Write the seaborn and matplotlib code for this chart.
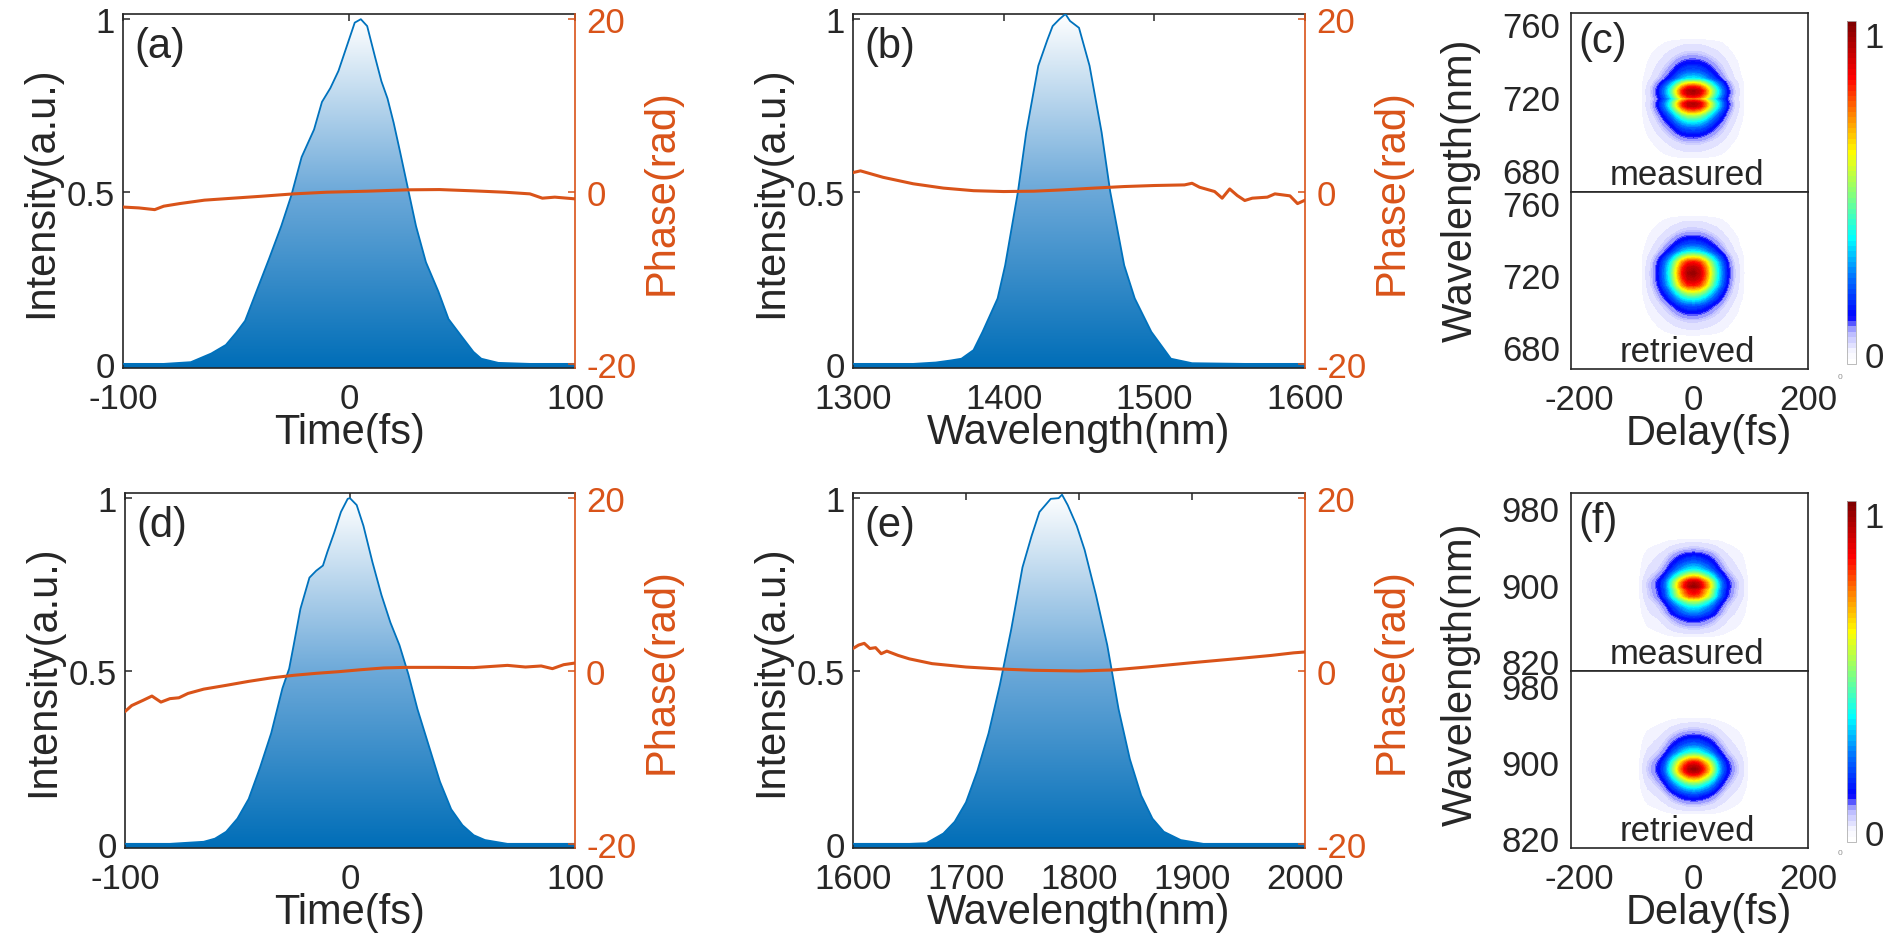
import numpy as np
import matplotlib
matplotlib.use("Agg")
import matplotlib.pyplot as plt
from matplotlib.colors import LinearSegmentedColormap, Normalize
from matplotlib.cm import ScalarMappable
import seaborn as sns

# ---- (a) temporal intensity / phase, first pulse ----
time_a = [-100, -82, -70, -61, -54.5, -50, -46, -41, -35.4, -30, -25.5, -21, -15.5, -12, -8.3, -4.7,
          -1.1, 2.5, 5.2, 8, 11.5, 14.3, 17, 19.7, 22.4, 26, 29.6, 34, 39.5, 44, 49.4, 55, 58.5, 66, 80, 100]
int_a = [0, 0, 0.005, 0.03, 0.055, 0.09, 0.125, 0.21, 0.305, 0.40, 0.49, 0.60, 0.68, 0.76, 0.80, 0.85,
         0.92, 0.99, 1.0, 0.98, 0.89, 0.82, 0.77, 0.70, 0.62, 0.51, 0.40, 0.295, 0.21, 0.13, 0.083, 0.035,
         0.015, 0.003, 0, 0]
phase_t_a = [-100, -93, -86, -82, -75, -64, -53, -39, -24.5, -10, 8, 26, 40, 55, 69, 80, 85.5, 91, 100]
phase_a = [-1.8, -1.9, -2.1, -1.7, -1.4, -1.0, -0.8, -0.55, -0.27, -0.08, 0.04, 0.2, 0.23, 0.08, -0.08,
           -0.27, -0.77, -0.65, -0.85]

# ---- (b) spectrum / spectral phase, first pulse ----
wl_b = [1300, 1340, 1355, 1365, 1372, 1380, 1386, 1396, 1401, 1409.5, 1415, 1423, 1429, 1432.5, 1437,
        1441, 1444, 1447, 1450, 1457, 1465, 1470.7, 1480, 1487, 1498, 1511, 1525, 1560, 1600]
int_b = [0, 0, 0.004, 0.01, 0.015, 0.04, 0.093, 0.19, 0.286, 0.5, 0.672, 0.865, 0.94, 0.98, 1.0,
         1.015, 0.995, 0.985, 0.975, 0.865, 0.672, 0.5, 0.286, 0.19, 0.093, 0.015, 0.002, 0, 0]
phase_wl_b = [1300, 1305, 1320, 1340, 1360, 1380, 1400, 1420, 1440, 1460, 1480, 1500, 1520, 1525, 1530,
              1540, 1545, 1550, 1555, 1560, 1565, 1575, 1580, 1590, 1595, 1600]
phase_b = [2.2, 2.4, 1.65, 0.9, 0.4, 0.1, 0, 0.04, 0.2, 0.4, 0.58, 0.7, 0.77, 0.96, 0.5, 0, -0.77, 0.3,
           -0.46, -1.04, -0.77, -0.65, -0.27, -0.5, -1.4, -1.0]

# ---- (d) temporal intensity / phase, second pulse ----
time_d = [-100, -80, -65, -60, -55, -50, -45, -40, -35, -30, -27, -25, -22, -18, -15, -12, -10, -7, -4, -1,
          0, 3, 6, 10, 14, 18, 22, 26, 30, 35, 40, 45, 50, 55, 60, 70, 80, 100]
int_d = [0, 0, 0.006, 0.015, 0.035, 0.073, 0.13, 0.22, 0.32, 0.45, 0.507, 0.575, 0.68, 0.77, 0.79, 0.805,
         0.845, 0.90, 0.96, 0.998, 1.0, 0.98, 0.92, 0.815, 0.72, 0.64, 0.575, 0.49, 0.39, 0.285, 0.18, 0.10,
         0.054, 0.025, 0.011, 0, 0, 0]
phase_t_d = [-100, -97, -92, -88, -84, -80, -76, -72, -65, -55, -45, -35, -25, -15, -5, 5, 15, 25, 40, 55,
             70, 78, 85, 90, 95, 100]
phase_d = [-4.7, -4.0, -3.4, -2.9, -3.6, -3.2, -3.1, -2.6, -2.1, -1.66, -1.2, -0.8, -0.5, -0.27, -0.08,
           0.15, 0.35, 0.42, 0.42, 0.39, 0.65, 0.46, 0.58, 0.27, 0.73, 0.92]

# ---- (e) spectrum / spectral phase, second pulse ----
wl_e = [1600, 1650, 1665, 1680, 1690, 1700, 1710, 1720, 1730, 1740, 1750, 1758, 1765, 1775, 1782, 1785,
        1790, 1798, 1805, 1815, 1825, 1835, 1845, 1855, 1865, 1875, 1890, 1910, 2000]
int_e = [0, 0, 0.002, 0.03, 0.064, 0.12, 0.21, 0.32, 0.46, 0.62, 0.80, 0.89, 0.96, 0.998, 1.0, 1.01,
         0.98, 0.92, 0.85, 0.72, 0.575, 0.39, 0.245, 0.14, 0.073, 0.035, 0.011, 0, 0]
phase_wl_e = [1600, 1605, 1610, 1615, 1620, 1625, 1630, 1640, 1650, 1670, 1700, 1730, 1760, 1800, 1830,
              1860, 1900, 1940, 1970, 1990, 2000]
phase_e = [2.6, 3.0, 3.2, 2.6, 2.7, 2.0, 2.3, 1.8, 1.4, 0.85, 0.46, 0.23, 0.08, 0, 0.12, 0.46, 0.96, 1.43,
           1.8, 2.1, 2.2]

# ---- (c) FROG traces: delay and wavelength marginals ----
delay_c = [-92, -82, -72, -62, -50, -40, -30, -20, -10, 0, 10, 20, 30, 40, 50, 60, 70, 80, 90]
dprof_c = [0, 0.02, 0.06, 0.13, 0.27, 0.43, 0.65, 0.86, 0.98, 1.0, 0.95, 0.8, 0.6, 0.41, 0.25, 0.12, 0.05,
           0.015, 0]
wl_c_meas = [686, 691, 695, 699, 703, 706.5, 710, 713, 715, 716.5, 718, 719, 720, 722, 723.5, 725.5, 728,
             730, 734, 739, 743, 747, 752]
wprof_c_meas = [0, 0.02, 0.05, 0.12, 0.22, 0.36, 0.55, 0.8, 0.95, 0.97, 0.85, 0.72, 0.85, 0.97, 0.98, 0.85,
                0.6, 0.36, 0.22, 0.12, 0.06, 0.025, 0]
wl_c_ret = [686, 691, 695, 699.5, 703, 706.5, 710, 714.5, 718, 721, 724, 727, 730, 733, 737, 740.5, 744,
            748, 753]
wprof_c_ret = [0, 0.02, 0.05, 0.12, 0.2, 0.36, 0.55, 0.85, 0.96, 1.0, 0.96, 0.86, 0.62, 0.36, 0.2, 0.12,
               0.06, 0.025, 0]

# ---- (f) FROG traces ----
delay_f = [-96, -88, -80, -70, -60, -50, -43, -35, -25, -16, -8, 0, 8, 15, 25, 35, 42, 50, 59, 70, 79, 88, 96]
dprof_f = [0, 0.02, 0.05, 0.08, 0.13, 0.23, 0.36, 0.52, 0.72, 0.87, 0.97, 1.0, 0.97, 0.87, 0.72, 0.52,
           0.36, 0.23, 0.13, 0.07, 0.04, 0.015, 0]
wl_f_meas = [845, 850, 855, 860, 865, 870, 877, 883, 888, 892, 895, 898, 902, 905, 910, 916, 924, 932, 937,
             942, 948]
wprof_f_meas = [0, 0.02, 0.05, 0.09, 0.14, 0.24, 0.36, 0.55, 0.8, 0.88, 0.9, 1.0, 0.97, 0.86, 0.6, 0.36,
                0.22, 0.12, 0.06, 0.025, 0]
wl_f_ret = [845, 850, 855, 860, 866, 872, 878, 883, 887, 890, 893, 896, 900, 904, 910, 918, 926, 932, 938,
            943, 948]
wprof_f_ret = [0, 0.02, 0.05, 0.1, 0.18, 0.32, 0.5, 0.7, 0.86, 0.96, 1.0, 0.96, 0.86, 0.68, 0.42, 0.24,
               0.13, 0.07, 0.03, 0.01, 0]

BLUE = "#0072BD"
ORANGE = "#D95319"
TICK_FS = 25
LABEL_FS = 30
INT_LIM = (-0.012, 1.015)
PHASE_LIM = ((INT_LIM[0] - 0.5) * 40, (INT_LIM[1] - 0.5) * 40)

FILL_CMAP = LinearSegmentedColormap.from_list(
    "fill", [(0.0, (0.0, 0.43, 0.72)), (0.5, (0.42, 0.66, 0.85)), (1.0, (1, 1, 1))])

TRACE_CMAP = LinearSegmentedColormap.from_list("frog", [
    (0.0, (1, 1, 1)), (0.03, (0.96, 0.96, 1)), (0.09, (0.7, 0.7, 1.0)), (0.131, (0, 0, 1)),
    (0.25, (0, 0.45, 1)), (0.364, (0, 1, 1)), (0.49, (0.5, 1, 0.5)), (0.617, (1, 1, 0)),
    (0.733, (1, 0.5, 0)), (0.84, (1, 0, 0)), (1.0, (0.5, 0, 0))], N=64)
TRACE_NORM = Normalize(vmin=-0.031, vmax=1.042)
TRACE_LEVELS = np.linspace(0.003, 1.0, 80)


def gradient_fill(ax, x, y, y0):
    poly = ax.fill_between(x, y, y0, facecolor="none", edgecolor="none")
    grad = np.linspace(0, 1, 256).reshape(-1, 1)
    img = ax.imshow(grad, cmap=FILL_CMAP, aspect="auto", origin="lower",
                    extent=[min(x), max(x), y0, max(y)], zorder=1)
    img.set_clip_path(poly.get_paths()[0], transform=ax.transData)


def plot_pulse(fig, rect, x, y, px, py, xlim, xticks, xlabel, tag):
    ax = fig.add_axes(rect)
    gradient_fill(ax, x, y, INT_LIM[0])
    sns.lineplot(x=x, y=y, ax=ax, color=BLUE, lw=1.3, zorder=3)
    ax.set_xlim(xlim)
    ax.set_ylim(INT_LIM)
    ax.set_xticks(xticks)
    ax.set_xticklabels([str(v) for v in xticks])
    ax.set_yticks([0, 0.5, 1])
    ax.set_yticklabels(["0", "0.5", "1"])
    ax.tick_params(direction="in", top=True, right=False, length=5, width=1.1, labelsize=TICK_FS)
    ax.tick_params(axis="x", pad=10)
    ax.tick_params(axis="y", pad=6)
    ax.set_xlabel(xlabel, fontsize=LABEL_FS, labelpad=-2)
    ax.set_ylabel("Intensity(a.u.)", fontsize=LABEL_FS, labelpad=4)
    ax.spines["right"].set_visible(False)
    for s in ["left", "top", "bottom"]:
        ax.spines[s].set_linewidth(1.2)
    ax.text(0.025, 0.965, tag, transform=ax.transAxes, ha="left", va="top", fontsize=LABEL_FS)

    ax2 = ax.twinx()
    sns.lineplot(x=px, y=py, ax=ax2, color=ORANGE, lw=2.2)
    ax2.set_ylim(PHASE_LIM)
    ax2.set_yticks([-20, 0, 20])
    ax2.set_yticklabels(["-20", "0", "20"])
    ax2.tick_params(axis="y", direction="in", length=5, width=1.1, colors=ORANGE,
                    labelsize=TICK_FS, pad=8)
    ax2.set_ylabel("Phase(rad)", fontsize=LABEL_FS, color=ORANGE, labelpad=4)
    for s in ["left", "top", "bottom"]:
        ax2.spines[s].set_visible(False)
    ax2.spines["right"].set_color(ORANGE)
    ax2.spines["right"].set_linewidth(1.2)
    return ax


def plot_trace(fig, rect_top, rect_bot, cbar_rect, delay, dprof, traces, ylim, yticks, tag, zero_pos):
    axes = [fig.add_axes(rect_top), fig.add_axes(rect_bot)]
    for ax, (wl, wprof, name) in zip(axes, traces):
        z = np.outer(wprof, dprof)
        ax.contourf(delay, wl, z, levels=TRACE_LEVELS, cmap=TRACE_CMAP, norm=TRACE_NORM)
        ax.set_xlim(-215, 200)
        ax.set_ylim(ylim)
        ax.set_yticks(yticks)
        ax.set_yticklabels([str(v) for v in yticks])
        ax.set_xticks([-200, 0, 200])
        ax.set_xticklabels(["-200", "0", "200"])
        ax.tick_params(length=0, labelsize=TICK_FS, pad=8)
        for s in ax.spines.values():
            s.set_linewidth(1.2)
        ax.text(0.49, 0.045, name, transform=ax.transAxes, ha="center", va="baseline",
                fontsize=TICK_FS)
    axes[0].tick_params(labelbottom=False)
    axes[0].text(0.03, 0.955, tag, transform=axes[0].transAxes, ha="left", va="top",
                 fontsize=LABEL_FS)
    axes[1].tick_params(axis="x", pad=10)
    axes[1].set_xlabel("Delay(fs)", fontsize=LABEL_FS)
    axes[1].xaxis.set_label_coords(0.58, -0.25)

    cax = fig.add_axes(cbar_rect)
    cb = fig.colorbar(ScalarMappable(norm=TRACE_NORM, cmap=TRACE_CMAP), cax=cax, ticks=[0, 1])
    cb.ax.set_yticklabels(["0", "1"])
    cb.ax.tick_params(length=0, labelsize=TICK_FS, pad=6)
    cb.outline.set_edgecolor("#b0b0b0")
    cb.outline.set_linewidth(0.6)
    fig.text(zero_pos[0], zero_pos[1], "0", fontsize=6, color="#909090", ha="center", va="center")
    return axes


def main():
    sns.set_style("white")
    plt.rcParams["font.family"] = ["Liberation Sans", "DejaVu Sans"]
    plt.rcParams["axes.unicode_minus"] = False

    fig = plt.figure(figsize=(18.9, 9.45), dpi=100)

    plot_pulse(fig, [0.0651, 0.6095, 0.2392, 0.3746], time_a, int_a, phase_t_a, phase_a,
               (-100, 100), [-100, 0, 100], "Time(fs)", "(a)")
    plot_pulse(fig, [0.4513, 0.6095, 0.2392, 0.3746], wl_b, int_b, phase_wl_b, phase_b,
               (1300, 1600), [1300, 1400, 1500, 1600], "Wavelength(nm)", "(b)")
    plot_pulse(fig, [0.0661, 0.1016, 0.2381, 0.3757], time_d, int_d, phase_t_d, phase_d,
               (-100, 100), [-100, 0, 100], "Time(fs)", "(d)")
    plot_pulse(fig, [0.4513, 0.1016, 0.2392, 0.3757], wl_e, int_e, phase_wl_e, phase_e,
               (1600, 2000), [1600, 1700, 1800, 1900, 2000], "Wavelength(nm)", "(e)")

    plot_trace(fig, [0.8312, 0.7958, 0.1254, 0.1894], [0.8312, 0.6085, 0.1254, 0.1873],
               [0.9772, 0.6138, 0.0048, 0.363], delay_c, dprof_c,
               [(wl_c_meas, wprof_c_meas, "measured"), (wl_c_ret, wprof_c_ret, "retrieved")],
               (668, 766), [680, 720, 760], "(c)", (0.9735, 0.601))
    plot_trace(fig, [0.8312, 0.2889, 0.1254, 0.1884], [0.8312, 0.1016, 0.1254, 0.1873],
               [0.9772, 0.108, 0.0048, 0.361], delay_f, dprof_f,
               [(wl_f_meas, wprof_f_meas, "measured"), (wl_f_ret, wprof_f_ret, "retrieved")],
               (810, 996), [820, 900, 980], "(f)", (0.9735, 0.097))

    fig.text(0.773, 0.799, "Wavelength(nm)", rotation=90, fontsize=LABEL_FS, ha="center", va="center")
    fig.text(0.773, 0.287, "Wavelength(nm)", rotation=90, fontsize=LABEL_FS, ha="center", va="center")

    fig.savefig("out.png", dpi=100)
    plt.close(fig)


if __name__ == "__main__":
    main()
